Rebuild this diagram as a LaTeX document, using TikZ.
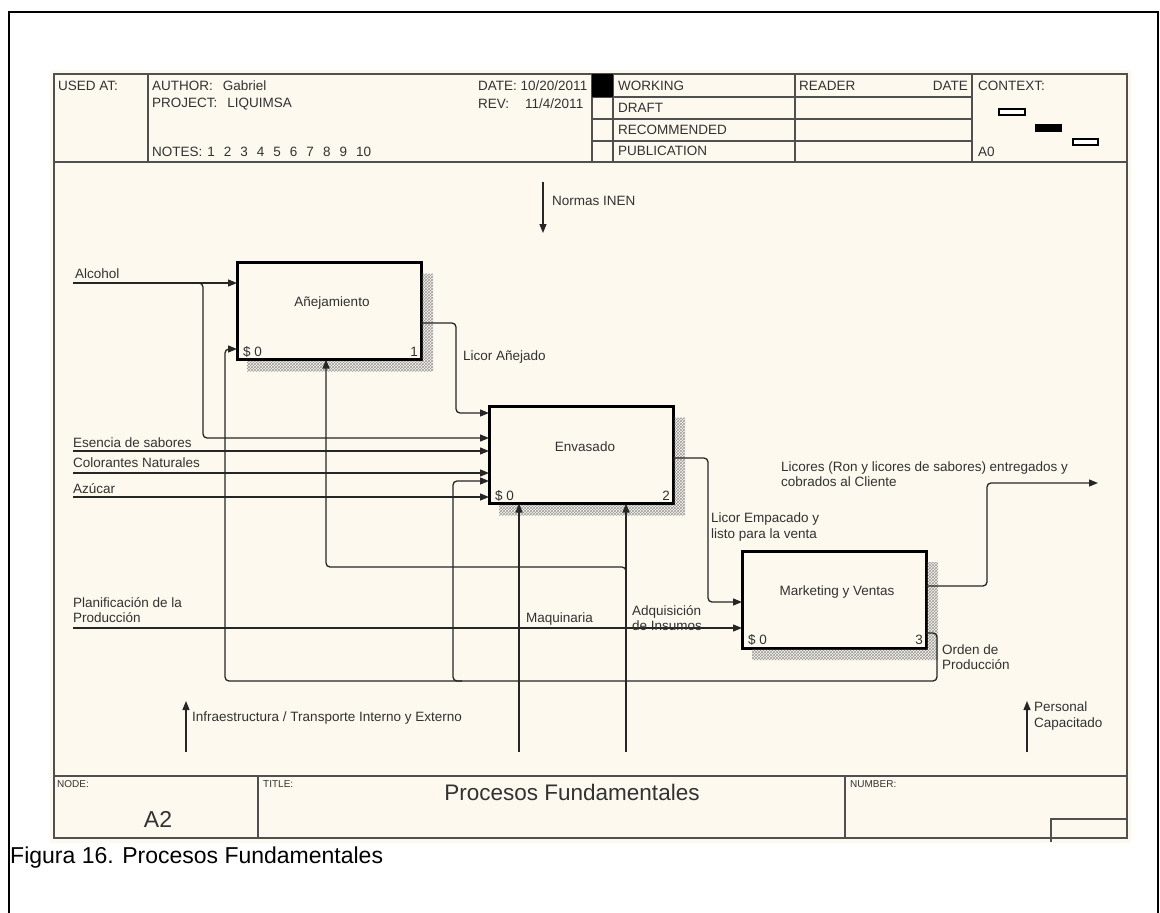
\documentclass[tikz,border=0pt]{standalone}
\usepackage{fontspec}
\setmainfont{Liberation Sans}
\usepackage{tikz}
\usetikzlibrary{arrows.meta, positioning, calc, patterns}
\definecolor{sheetcream}{RGB}{253, 249, 238}
\definecolor{framegray}{RGB}{80, 80, 80}
\definecolor{inkgray}{RGB}{50, 50, 50}

\begin{document}
\begin{tikzpicture}[
    x=1pt, y=-1pt,
    flow/.style={-{Triangle[length=9pt, width=7pt]}, line width=1.3pt, black!85, rounded corners=4pt},
    process/.style={draw, line width=3pt, fill=sheetcream, minimum width=184pt, minimum height=97pt, outer sep=0pt, inner sep=0pt},
    procname/.style={font=\fontsize{13.5}{16}\selectfont, text=inkgray, inner sep=0pt},
    tag/.style={font=\fontsize{13.5}{15.5}\selectfont, text=inkgray, inner sep=0pt, anchor=west, align=left},
    head/.style={font=\fontsize{13.5}{15}\selectfont, text=inkgray, inner sep=0pt, anchor=west},
    smallhead/.style={font=\fontsize{10}{12}\selectfont, text=inkgray, inner sep=0pt, anchor=west},
    sheetline/.style={line width=1.5pt, framegray},
    hatch/.style={pattern=crosshatch, pattern color=black!40}
]

    % Page and sheet
    \useasboundingbox (0,0) rectangle (1160,913);
    \draw[line width=1.6pt] (9,920) -- (9,12) -- (1158,12) -- (1158,920);
    \fill[sheetcream] (50,70) rectangle (1131,843);

    % Header
    \draw[sheetline] (54,74) rectangle (1127,838);
    \draw[sheetline] (54,162) -- (1127,162);
    \foreach \xx in {148,592,613,795,972}
        \draw[sheetline] (\xx,74) -- (\xx,162);
    \foreach \yy in {97,119,141}
        \draw[sheetline] (592,\yy) -- (972,\yy);
    \fill[black] (592,74) rectangle (613,97);

    \node[head] (usedat) at (58,86) {USED AT:};
    \node[head] (author) at (152,86) {AUTHOR:\hspace{10pt}Gabriel};
    \node[head] (project) at (152,104) {PROJECT:\hspace{10pt}LIQUIMSA};
    \node[head] (notes) at (152,152) {NOTES:\hspace{5pt}1\hspace{9pt}2\hspace{9pt}3\hspace{9pt}4\hspace{9pt}5\hspace{9pt}6\hspace{9pt}7\hspace{9pt}8\hspace{9pt}9\hspace{9pt}10};
    \node[head] (date) at (478,86) {DATE: 10/20/2011};
    \node[head] (rev) at (478,104) {REV:\hspace{16pt}11/4/2011};
    \node[head] (working) at (618,86) {WORKING};
    \node[head] (draft) at (618,108) {DRAFT};
    \node[head] (recommended) at (618,130) {RECOMMENDED};
    \node[head] (publication) at (618,151) {PUBLICATION};
    \node[head] (reader) at (799,86) {READER};
    \node[head, anchor=east] (readerdate) at (968,86) {DATE};
    \node[head] (context) at (978,86) {CONTEXT:};
    \node[head] (contextid) at (978,152) {A0};
    \draw[line width=1.2pt, fill=white] (999,109) rectangle (1025,115);
    \fill[black] (1035,124) rectangle (1062,132);
    \draw[line width=1.2pt, fill=white] (1073,139) rectangle (1098,145);

    % Footer
    \draw[sheetline] (54,776) -- (1127,776);
    \draw[sheetline] (258,776) -- (258,838);
    \draw[sheetline] (845,776) -- (845,838);
    \draw[sheetline] (1051,842) -- (1051,819) -- (1127,819);
    \node[smallhead] (nodelbl) at (57,784) {NODE:};
    \node[smallhead] (titlelbl) at (263,784) {TITLE:};
    \node[smallhead] (numberlbl) at (850,784) {NUMBER:};
    \node[font=\fontsize{23}{25}\selectfont, text=inkgray, inner sep=0pt] (nodeid) at (158,819) {A2};
    \node[font=\fontsize{22.5}{25}\selectfont, text=inkgray, inner sep=0pt] (title) at (572,792) {Procesos Fundamentales};
    \node[font=\fontsize{23}{26}\selectfont, inner sep=0pt, anchor=west] (caption) at (10,858) {Figura 16. Procesos Fundamentales};

    % Activities
    \node[process] (b1) at (329,311) {};
    \node[process, below right=47pt and 68pt of b1] (b2) {};
    \node[process, below right=47.5pt and 69pt of b2] (b3) {};
    \foreach \b in {b1,b2,b3}
        \fill[hatch] ($(\b.north east)+(1.5,11)$) -- ($(\b.north east)+(12,11)$) -- ($(\b.south east)+(12,12)$)
            -- ($(\b.south west)+(10,12)$) -- ($(\b.south west)+(10,1.5)$) -- ($(\b.south east)+(1.5,1.5)$) -- cycle;

    \node[procname] (b1name) at ([xshift=3pt, yshift=8pt]b1.center) {Añejamiento};
    \node[procname] (b2name) at ([xshift=4pt, yshift=8pt]b2.center) {Envasado};
    \node[procname] (b3name) at ([xshift=3pt, yshift=7pt]b3.center) {Marketing y Ventas};
    \foreach \b/\n in {b1/1,b2/2,b3/3} {
        \node[procname, anchor=west] (\b cost) at ($(\b.south west)+(6,-8)$) {\$ 0};
        \node[procname, anchor=east] (\b num) at ($(\b.south east)+(-3,-8)$) {\n};
    }

    % Inputs
    \coordinate (alcohol) at (73,283);
    \coordinate (esencia) at (73,451);
    \coordinate (colorantes) at (73,473);
    \coordinate (azucar) at (73,497);
    \coordinate (planif) at (73,628);
    \draw[flow] (alcohol) -- (alcohol -| b1.west);
    \draw[flow] (194,283) -- (203,283) |- (b2.west |- 0,438);
    \draw[flow] (esencia) -- (esencia -| b2.west);
    \draw[flow] (colorantes) -- (colorantes -| b2.west);
    \draw[flow] (azucar) -- (azucar -| b2.west);
    \draw[flow] (planif) -- (planif -| b3.west);
    \node[tag] (alcoholtxt) at (75,274) {Alcohol};
    \node[tag] (esenciatxt) at (73,443) {Esencia de sabores};
    \node[tag] (colorantestxt) at (73,463) {Colorantes Naturales};
    \node[tag] (azucartxt) at (73,489) {Azúcar};
    \node[tag] (planiftxt) at (73,610) {Planificación de la\\Producción};

    % Outputs
    \coordinate (cliente) at (1098,483);
    \draw[flow] (b1.east |- 0,323) -- (456,323) |- (b2.west |- 0,413);
    \draw[flow] (b2.east |- 0,458) -- (708,458) |- (b3.west |- 0,602);
    \draw[flow] (b3.east |- 0,586) -- (987,586) |- (cliente);
    \node[tag] (anejadotxt) at (463,357) {Licor Añejado};
    \node[tag] (empacadotxt) at (711,527) {Licor Empacado y\\listo para la venta};
    \node[tag] (clientetxt) at (781,474) {Licores (Ron y licores de sabores) entregados y\\cobrados al Cliente};

    % Feedback
    \draw[flow] (b3.east |- 0,633) -- (937,633) -- (937,681) -- (225,681) |- (b1.west |- 0,349);
    \draw[flow] (462,681) -- (453,681) |- (b2.west |- 0,481);
    \node[tag] (ordentxt) at (942,657) {Orden de\\Producción};

    % Controls and mechanisms
    \coordinate (normas) at (543,182);
    \coordinate (normasEnd) at (543,233);
    \coordinate (maquinaria) at (519,752);
    \coordinate (adquisicion) at (626,752);
    \coordinate (infra) at (186,752);
    \coordinate (infraEnd) at (186,701);
    \coordinate (personal) at (1027,752);
    \coordinate (personalEnd) at (1027,701);
    \draw[flow] (normas) -- (normasEnd);
    \draw[flow] (maquinaria) -- (maquinaria |- b2.south);
    \draw[flow] (adquisicion) -- (adquisicion |- b2.south);
    \draw[flow] (626,575) -- (626,567) -| (b1.south -| 326,0);
    \draw[flow] (infra) -- (infraEnd);
    \draw[flow] (personal) -- (personalEnd);
    \node[tag] (normastxt) at (552,201) {Normas INEN};
    \node[tag] (maquinariatxt) at (526,619) {Maquinaria};
    \node[tag] (adquisiciontxt) at (632,618) {Adquisición\\de Insumos};
    \node[tag] (infratxt) at (192,718) {Infraestructura / Transporte Interno y Externo};
    \node[tag] (personaltxt) at (1034,716) {Personal\\Capacitado};

\end{tikzpicture}
\end{document}
